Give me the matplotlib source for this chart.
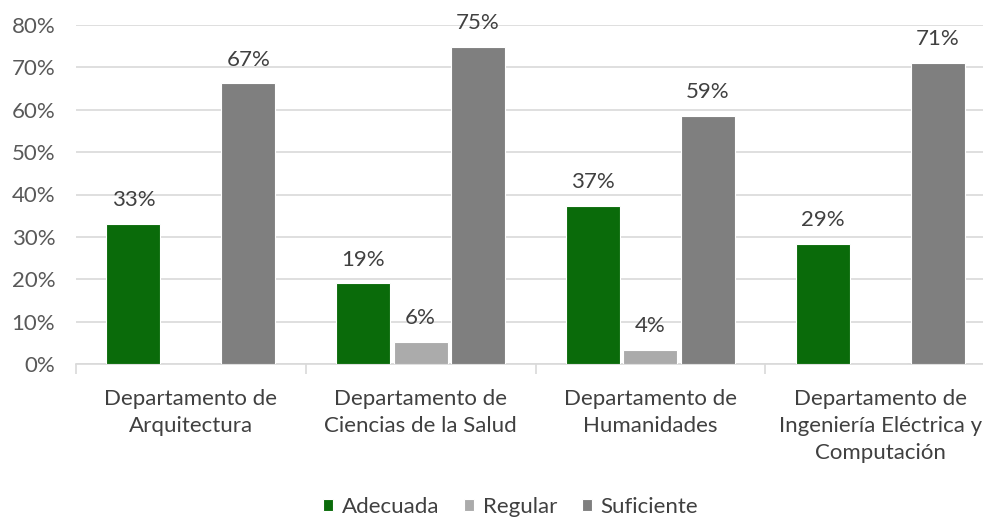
import numpy as np
import matplotlib
matplotlib.use("Agg")
import matplotlib.pyplot as plt
from matplotlib.ticker import PercentFormatter

plt.rcParams["font.family"] = ["Lato", "DejaVu Sans"]

#  Data
categorias = [
    "Departamento de\nArquitectura",
    "Departamento de\nCiencias de la Salud",
    "Departamento de\nHumanidades",
    "Departamento de\nIngeniería Eléctrica y\nComputación",
]
series = ["Adecuada", "Regular", "Suficiente"]
adecuada   = [0.330, 0.190, 0.372, 0.283]
regular    = [0.000, 0.053, 0.033, 0.000]
suficiente = [0.662, 0.748, 0.585, 0.711]
etiq_adecuada   = ["33%", "19%", "37%", "29%"]
etiq_regular    = ["", "6%", "4%", ""]
etiq_suficiente = ["67%", "75%", "59%", "71%"]

colores = ["#0A6B0A", "#ABABAB", "#7F7F7F"]
texto = "#404040"
fs = 16

#  Figure
fig = plt.figure(figsize=(9.83, 5.19), dpi=100)
ax = fig.add_axes([76 / 983, 155 / 519, 919 / 983, 339 / 519])

x = np.arange(len(categorias))
paso = 0.25
ancho = 0.235
valores = [adecuada, regular, suficiente]
etiquetas = [etiq_adecuada, etiq_regular, etiq_suficiente]

for i, (nombre, vals, labs) in enumerate(zip(series, valores, etiquetas)):
    pos = x + (i - 1) * paso
    bars = ax.bar(pos, vals, width=ancho, color=colores[i], edgecolor="white",
                  linewidth=0.8, label=nombre, zorder=3)
    for b, lab in zip(bars, labs):
        if lab:
            ax.annotate(lab, (b.get_x() + b.get_width() / 2, b.get_height()),
                        xytext=(0, 10), textcoords="offset points",
                        ha="center", va="bottom", fontsize=fs, color=texto)

#  Axes styling
ax.set_ylim(0, 0.8)
ax.set_xlim(-0.5, len(categorias) - 0.5)
ax.set_yticks(np.arange(0, 0.81, 0.1))
ax.yaxis.set_major_formatter(PercentFormatter(1.0, decimals=0))
ax.grid(axis="y", color="#D9D9D9", linewidth=1.2, zorder=0)
ax.set_axisbelow(True)

for s in ["top", "right", "left"]:
    ax.spines[s].set_visible(False)
ax.spines["bottom"].set_color("#D9D9D9")
ax.spines["bottom"].set_linewidth(1.2)

ax.set_xticks(x)
ax.set_xticklabels(categorias, fontsize=fs, color=texto, linespacing=1.45)
ax.tick_params(axis="x", which="major", length=0, pad=18)
ax.set_xticks(np.arange(-0.5, len(categorias), 1.0), minor=True)
ax.tick_params(axis="x", which="minor", length=7, color="#D9D9D9", width=1.2)
ax.tick_params(axis="y", length=0, labelsize=fs, labelcolor="#595959", pad=15)

# legend centred at y=507 px of the figure
leg = ax.legend(loc="center", bbox_to_anchor=(0.473, (519 - 507 - 155) / 339), ncol=3,
                frameon=False, fontsize=fs, handlelength=0.45, handleheight=0.45,
                handletextpad=0.4, columnspacing=1.1)
for t in leg.get_texts():
    t.set_color(texto)

fig.savefig("out.png", dpi=100)
